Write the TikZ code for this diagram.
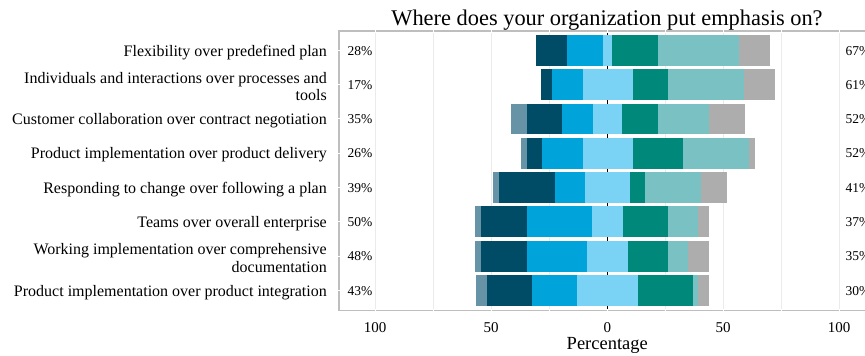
\documentclass[tikz,border=0pt]{standalone}
\usepackage{fontspec}
\setmainfont{Liberation Serif}
\definecolor{cGB}{HTML}{6693A6}
\definecolor{cNV}{HTML}{004C66}
\definecolor{cBL}{HTML}{00A3DA}
\definecolor{cLB}{HTML}{7AD2F5}
\definecolor{cTE}{HTML}{00897B}
\definecolor{cLT}{HTML}{79C1C2}
\definecolor{cGR}{HTML}{ADADAD}
\definecolor{cAX}{HTML}{BEBEBE}
\definecolor{cGD}{HTML}{EBEBEB}
\newcommand\mybar[2]{\foreach \xa/\xb/\cc in {#2}{\fill[\cc] (\xa,#1-15.4) rectangle (\xb,#1+15.4);}}
\begin{document}
\begin{tikzpicture}[x=1pt,y=-1pt,
  rowlab/.style={anchor=east,inner sep=0pt,align=right,font=\fontsize{16}{17.6}\selectfont},
  pctlab/.style={anchor=base west,inner sep=0pt,font=\fontsize{13.5}{15}\selectfont},
  ticklab/.style={anchor=base,inner sep=0pt,font=\fontsize{15}{17}\selectfont},
  gridln/.style={draw=cGD,line width=0.8pt},
  axisln/.style={draw=cAX,line width=1.6pt},
  notch/.style={draw=white,line width=1pt}]
\useasboundingbox (0,0) rectangle (865,356);
\clip (0,0) rectangle (865,356);
% grid
\foreach \gx in {375,433,491,549,665,723,781,839}{\draw[gridln] (\gx,31) -- (\gx,310);}
% zero line
\draw[black,line width=1.5pt] (607.3,31) -- (607.3,310);
% bars
\mybar{50.3}{536/567/cNV,567/603/cBL,603/612/cLB,612/658/cTE,658/739/cLT,739/770/cGR}
\mybar{84.6}{541/552/cNV,552/583/cBL,583/633/cLB,633/668/cTE,668/744/cLT,744/775/cGR}
\mybar{118.9}{511/527/cGB,527/562/cNV,562/593/cBL,593/622/cLB,622/658/cTE,658/709.3/cLT,709.3/745/cGR}
\mybar{153.2}{521/527/cGB,527/542/cNV,542/583/cBL,583/633/cLB,633/683/cTE,683/749/cLT,749/755/cGR}
\mybar{187.5}{493/499/cGB,499/555/cNV,555/585/cBL,585/630/cLB,630/645/cTE,645/701/cLT,701/727/cGR}
\mybar{221.8}{475/481/cGB,481/527/cNV,527/592/cBL,592/623/cLB,623/668/cTE,668/698/cLT,698/709/cGR}
\mybar{256.1}{475/481/cGB,481/527/cNV,527/587/cBL,587/628/cLB,628/668/cTE,668/688/cLT,688/709/cGR}
\mybar{290.4}{476/487/cGB,487/532/cNV,532/577/cBL,577/638/cLB,638/693/cTE,693/698/cLT,698/709/cGR}
% axes
\draw[axisln] (339,31) -- (870,31);
\draw[axisln] (339,310.5) -- (870,310.5);
\draw[axisln] (339,30.2) -- (339,311.3);
\foreach \gx in {375,433,491,549,607,665,723,781,839}{\draw[notch] (\gx,29.5) -- (\gx,32.5); \draw[notch] (\gx,309) -- (\gx,312);}
\foreach \gy in {50.3,84.6,118.9,153.2,187.5,221.8,256.1,290.4}{\draw[notch] (337.5,\gy) -- (340.5,\gy);}
% title
\node[anchor=base,inner sep=0pt,font=\fontsize{22.4}{24}\selectfont] (title) at (607,25) {Where does your organization put emphasis on?};
% row labels
\node[rowlab] (lab1) at (327,52.1) {Flexibility over predefined plan};
\node[rowlab] (lab2) at (327,86.4) {Individuals and interactions over processes and\\tools};
\node[rowlab] (lab3) at (327,120.7) {Customer collaboration over contract negotiation};
\node[rowlab] (lab4) at (327,155.0) {Product implementation over product delivery};
\node[rowlab] (lab5) at (327,189.3) {Responding to change over following a plan};
\node[rowlab] (lab6) at (327,223.6) {Teams over overall enterprise};
\node[rowlab] (lab7) at (327,257.9) {Working implementation over comprehensive\\documentation};
\node[rowlab] (lab8) at (327,292.2) {Product implementation over product integration};
% percentages
\foreach \i/\yy/\lp/\rp in {1/50.3/28/67,2/84.6/17/61,3/118.9/35/52,4/153.2/26/52,5/187.5/39/41,6/221.8/50/37,7/256.1/48/35,8/290.4/43/30}{
  \node[pctlab] (lp\i) at (347.5,\yy+4.7) {\lp\%};
  \node[pctlab] (rp\i) at (845.5,\yy+4.7) {\rp\%};
}
% tick labels
\node[ticklab] (t1) at (375,332.5) {100};
\node[ticklab] (t2) at (491,332.5) {50};
\node[ticklab] (t3) at (607.3,332.5) {0};
\node[ticklab] (t4) at (723,332.5) {50};
\node[ticklab] (t5) at (839,332.5) {100};
\node[anchor=base,inner sep=0pt,font=\fontsize{18.5}{20}\selectfont] (xlab) at (607.3,349.5) {Percentage};
\end{tikzpicture}
\end{document}
